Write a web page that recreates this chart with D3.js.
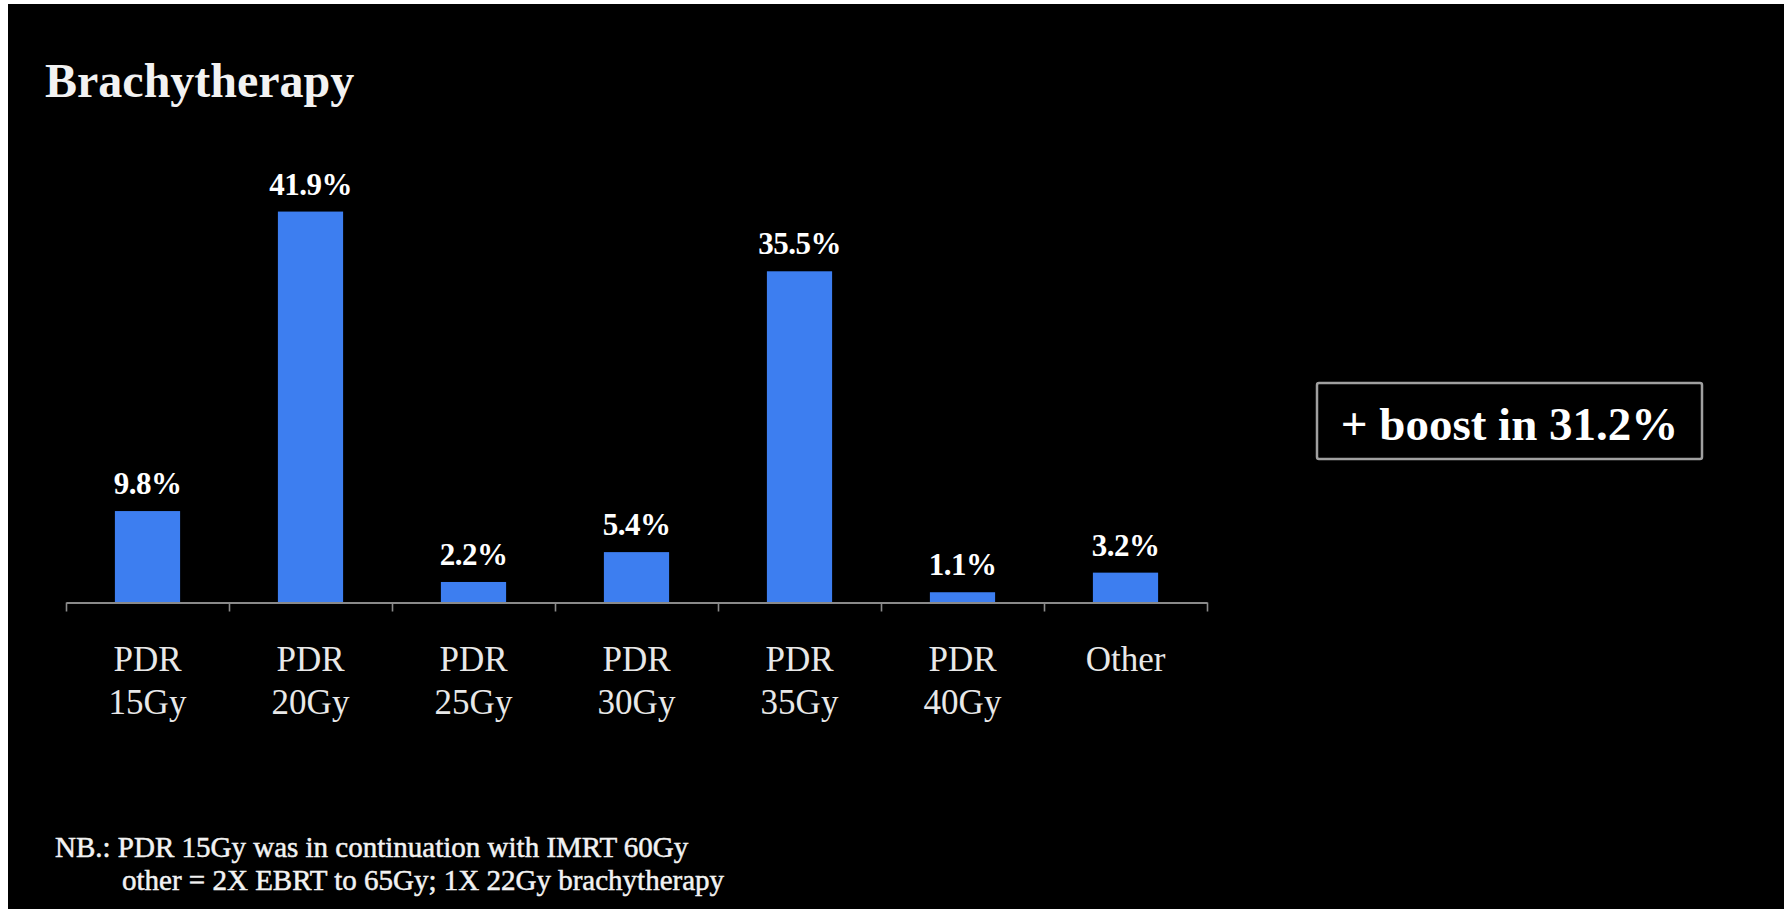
<!DOCTYPE html>
<html>
<head>
<meta charset="utf-8">
<script src="https://cdn.jsdelivr.net/npm/d3@7"></script>
<style>
  html, body { margin: 0; padding: 0; background: #ffffff; }
  svg { display: block; }
</style>
</head>
<body>
<svg id="chart" width="1787" height="909"></svg>
<script>
// Treatment categories (two-line axis labels) and share of patients (%)
const categories = ["PDR 15Gy", "PDR 20Gy", "PDR 25Gy", "PDR 30Gy", "PDR 35Gy", "PDR 40Gy", "Other"];
const labelLines = [["PDR", "15Gy"], ["PDR", "20Gy"], ["PDR", "25Gy"], ["PDR", "30Gy"], ["PDR", "35Gy"], ["PDR", "40Gy"], ["Other"]];
const shares = [9.8, 41.9, 2.2, 5.4, 35.5, 1.1, 3.2];
const boostShare = 31.2;
const footnotes = [
  "NB.: PDR 15Gy was in continuation with IMRT 60Gy",
  "other = 2X EBRT to 65Gy; 1X 22Gy brachytherapy"
];

const SERIF = "'Liberation Serif', 'Times New Roman', serif";
const svg = d3.select("#chart").attr("font-family", SERIF);
const W = 1787, H = 909;

// dark slide panel
svg.append("rect").attr("x", 8).attr("y", 4).attr("width", W - 11).attr("height", H - 4).attr("fill", "#000");

const x0 = 66, x1 = 1207, yBase = 602.5;
const x = d3.scaleBand().domain(categories).range([x0, x1]).paddingInner(0.6).paddingOuter(0.3);
const y = d3.scaleLinear().domain([0, 45]).range([yBase, yBase - 45 * 9.33]);

// title
svg.append("text").attr("x", 45).attr("y", 97)
  .attr("font-family", SERIF)
  .attr("fill", "#f2f2f2").attr("font-size", 48).attr("font-weight", "bold")
  .text("Brachytherapy");

// bars
svg.append("g").selectAll("rect").data(shares).join("rect")
  .attr("x", (d, i) => x(categories[i]))
  .attr("width", x.bandwidth())
  .attr("y", d => y(d))
  .attr("height", d => y(0) - y(d))
  .attr("fill", "#3d7ef0");

// value labels
svg.append("g").selectAll("text").data(shares).join("text")
  .attr("x", (d, i) => x(categories[i]) + x.bandwidth() / 2)
  .attr("y", d => y(d) - 17)
  .attr("text-anchor", "middle")
  .attr("font-family", SERIF)
  .attr("fill", "#ffffff").attr("font-size", 31).attr("font-weight", "bold")
  .attr("letter-spacing", -0.5)
  .text(d => d.toFixed(1) + "%");

// category axis: ticks sit on the boundaries between categories
const edge = d3.scaleLinear().domain([0, categories.length]).range([x0, x1]);
const axis = svg.append("g").attr("transform", `translate(0,${yBase})`)
  .call(d3.axisBottom(edge).tickValues(d3.range(categories.length + 1)).tickFormat("").tickSize(9).tickSizeOuter(0));
axis.select(".domain").attr("stroke", "#8a8a8a").attr("stroke-width", 2.2);
axis.selectAll(".tick line").attr("stroke", "#8a8a8a").attr("stroke-width", 1.6);

// category labels
const cat = svg.append("g").selectAll("text").data(labelLines).join("text")
  .attr("text-anchor", "middle")
  .attr("font-family", SERIF)
  .attr("fill", "#e8e8e8").attr("font-size", 35)
  .attr("transform", (d, i) => `translate(${x(categories[i]) + x.bandwidth() / 2},0)`);
cat.selectAll("tspan").data(d => d).join("tspan")
  .attr("x", 0)
  .attr("y", (d, j) => 671 + j * 43)
  .text(d => d);

// boost callout
svg.append("rect").attr("x", 1317).attr("y", 383).attr("width", 385).attr("height", 76)
  .attr("rx", 2).attr("fill", "none").attr("stroke", "#a0a0a0").attr("stroke-width", 2.5);
svg.append("text").attr("x", 1509.5).attr("y", 440).attr("text-anchor", "middle")
  .attr("font-family", SERIF)
  .attr("fill", "#ffffff").attr("font-size", 47).attr("font-weight", "bold")
  .text("+ boost in " + boostShare.toFixed(1) + "%");

// footnotes
svg.append("text").attr("x", 55).attr("y", 857)
  .attr("font-family", SERIF)
  .attr("fill", "#f2f2f2").attr("font-size", 29)
  .attr("stroke", "#f2f2f2").attr("stroke-width", 0.5)
  .text(footnotes[0]);
svg.append("text").attr("x", 122).attr("y", 890)
  .attr("font-family", SERIF)
  .attr("fill", "#f2f2f2").attr("font-size", 29)
  .attr("stroke", "#f2f2f2").attr("stroke-width", 0.5)
  .text(footnotes[1]);
</script>
</body>
</html>
